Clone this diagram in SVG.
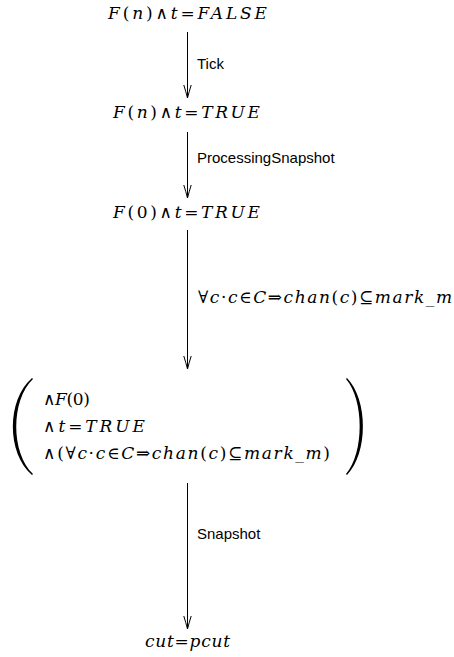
<svg xmlns="http://www.w3.org/2000/svg" width="454" height="657" viewBox="0 0 454 657">
<style>
.m{font-family:"DejaVu Serif","Liberation Serif",serif;font-size:17px;fill:#000}
.i{font-style:italic}
.lbl{font-family:"Liberation Sans",Arial,sans-serif;font-size:15px;fill:#000}
.c{stroke:#000;stroke-width:1;fill:none}
</style>
<defs>
<marker id="ah" markerWidth="16" markerHeight="12" refX="14" refY="6" orient="auto" markerUnits="userSpaceOnUse" viewBox="0 0 16 12">
<path d="M1,2.3 Q8,4.5 14,6 Q8,7.5 1,9.7" fill="none" stroke="#000" stroke-width="1"/>
</marker>
</defs>
<rect width="454" height="657" fill="#fff"/>
<g id="n1"><text class="m" x="187.5" y="19" text-anchor="middle" textLength="159" lengthAdjust="spacing"><tspan class="i">F</tspan>(<tspan class="i">n</tspan>)∧<tspan class="i">t</tspan>=<tspan class="i">FALSE</tspan></text></g>
<g id="n2"><text class="m" x="186.5" y="118" text-anchor="middle" textLength="147" lengthAdjust="spacing"><tspan class="i">F</tspan>(<tspan class="i">n</tspan>)∧<tspan class="i">t</tspan>=<tspan class="i">TRUE</tspan></text></g>
<g id="n3"><text class="m" x="186.5" y="218" text-anchor="middle" textLength="147" lengthAdjust="spacing"><tspan class="i">F</tspan>(0)∧<tspan class="i">t</tspan>=<tspan class="i">TRUE</tspan></text></g>
<g id="n4">
<path d="M32,378 C6.5,400 6.5,453 32,475 L33,474 C10.7,453 10.7,400 33,379 Z" fill="#000"/>
<path d="M347,378 C368.3,400 368.3,453 347,475 L346,474 C364.3,453 364.3,400 346,379 Z" fill="#000"/>
<text class="m" x="43" y="405" textLength="47" lengthAdjust="spacing">∧<tspan class="i">F</tspan>(0)</text>
<text class="m" x="43" y="432" textLength="102" lengthAdjust="spacing">∧<tspan class="i">t</tspan>=<tspan class="i">TRUE</tspan></text>
<text class="m" x="43" y="459" textLength="287" lengthAdjust="spacing">∧(∀<tspan class="i">c</tspan>·<tspan class="i">c</tspan>∈<tspan class="i">C</tspan>⇒<tspan class="i">chan</tspan>(<tspan class="i">c</tspan>)⊆<tspan class="i">mark_m</tspan>)</text>
</g>
<g id="n5"><text class="m" x="187.5" y="647" text-anchor="middle" textLength="85" lengthAdjust="spacing"><tspan class="i">cut</tspan>=<tspan class="i">pcut</tspan></text></g>
<g id="connectors">
<line class="c" x1="187.5" y1="32" x2="187.5" y2="98" marker-end="url(#ah)"/>
<text class="lbl" x="197" y="69">Tick</text>
<line class="c" x1="187.5" y1="132" x2="187.5" y2="198" marker-end="url(#ah)"/>
<text class="lbl" x="197" y="163">ProcessingSnapshot</text>
<line class="c" x1="187.5" y1="230" x2="187.5" y2="369" marker-end="url(#ah)"/>
<text class="m" x="198" y="303" textLength="254" lengthAdjust="spacing">∀<tspan class="i">c</tspan>·<tspan class="i">c</tspan>∈<tspan class="i">C</tspan>⇒<tspan class="i">chan</tspan>(<tspan class="i">c</tspan>)⊆<tspan class="i">mark_m</tspan></text>
<line class="c" x1="187.5" y1="483" x2="187.5" y2="629" marker-end="url(#ah)"/>
<text class="lbl" x="197" y="539">Snapshot</text>
</g>
</svg>
